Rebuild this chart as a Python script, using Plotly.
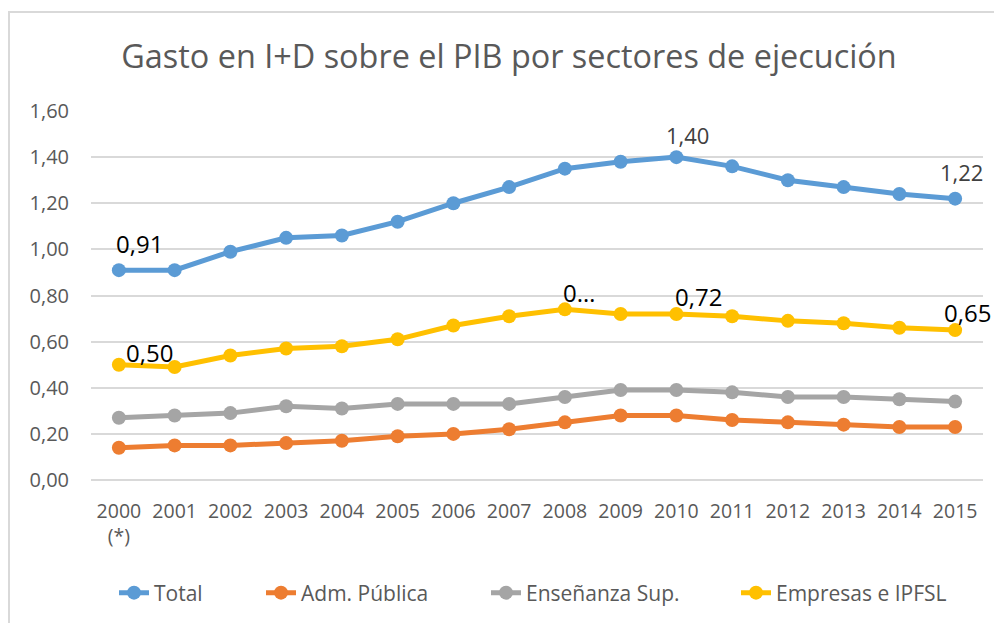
import plotly.graph_objects as go

years = ["2000<br>(*)", "2001", "2002", "2003", "2004", "2005", "2006", "2007",
         "2008", "2009", "2010", "2011", "2012", "2013", "2014", "2015"]

total = [0.91, 0.91, 0.99, 1.05, 1.06, 1.12, 1.20, 1.27, 1.35, 1.38, 1.40, 1.36, 1.30, 1.27, 1.24, 1.22]
adm_publica = [0.14, 0.15, 0.15, 0.16, 0.17, 0.19, 0.20, 0.22, 0.25, 0.28, 0.28, 0.26, 0.25, 0.24, 0.23, 0.23]
ensenanza = [0.27, 0.28, 0.29, 0.32, 0.31, 0.33, 0.33, 0.33, 0.36, 0.39, 0.39, 0.38, 0.36, 0.36, 0.35, 0.34]
empresas = [0.50, 0.49, 0.54, 0.57, 0.58, 0.61, 0.67, 0.71, 0.74, 0.72, 0.72, 0.71, 0.69, 0.68, 0.66, 0.65]

series_names = ["Total", "Adm. Pública", "Enseñanza Sup.", "Empresas e IPFSL"]
series_values = [total, adm_publica, ensenanza, empresas]
colors = ["#5B9BD5", "#ED7D31", "#A5A5A5", "#FFC000"]

# data labels: (series index, point index, text)
labels = [
    (0, 0, "0,91"), (0, 10, "1,40"), (0, 15, "1,22"),
    (3, 0, "0,50"), (3, 8, "0…"), (3, 10, "0,72"), (3, 15, "0,65"),
]
# style for each label: (xshift, yshift, color, size)
label_styles = [
    (21, 27, "#000000", 24), (11, 22, "#404040", 22), (6, 27, "#404040", 22),
    (31, 12, "#000000", 24), (14, 17, "#000000", 24), (22, 17, "#000000", 24), (12, 18, "#000000", 24),
]

FONT = "Open Sans"
PW, PH = 892.0, 369.0  # plot area size in px

legend_ids = ["legend", "legend2", "legend3", "legend4"]
legend_x_px = [23, 170, 395, 645]  # legend box left edge, relative to plot left

fig = go.Figure()
for name, vals, col, lid in zip(series_names, series_values, colors, legend_ids):
    fig.add_trace(go.Scatter(
        x=years, y=vals, name=name, mode="lines+markers",
        line=dict(color=col, width=5),
        marker=dict(color=col, size=14),
        legend=lid,
    ))

annotations = []
for (si, pi, txt), (dx, dy, c, s) in zip(labels, label_styles):
    annotations.append(dict(
        x=pi, y=series_values[si][pi], xref="x", yref="y", text=txt, showarrow=False,
        xshift=dx, yshift=dy, font=dict(family=FONT, size=s, color=c),
    ))

legend_common = dict(orientation="h", xanchor="left", y=-113 / PH, yanchor="middle",
                     font=dict(family=FONT, size=21, color="#595959"),
                     bgcolor="rgba(0,0,0,0)")
legends = {}
for lid, lx in zip(legend_ids, legend_x_px):
    legends[lid] = dict(x=lx / PW, **legend_common)

fig.update_layout(
    width=1002, height=623,
    margin=dict(l=83, r=27, t=103, b=151),
    paper_bgcolor="white", plot_bgcolor="white",
    title=dict(text="Gasto en I+D sobre el PIB por sectores de ejecución",
               x=0.5, xanchor="center", y=1 - 49 / 623, yanchor="middle",
               font=dict(family=FONT, size=32.4, color="#595959")),
    font=dict(family=FONT, size=19, color="#595959"),
    xaxis=dict(type="category", range=[-0.5, 15.5], showgrid=False,
               showline=False, zeroline=False, ticks="",
               ticklabelstandoff=17,
               tickfont=dict(family=FONT, size=19.5, color="#595959")),
    yaxis=dict(range=[0, 1.6], dtick=0.2, tickformat=".2f",
               showgrid=True, gridcolor="#D9D9D9", gridwidth=1.5,
               zeroline=True, zerolinecolor="#D9D9D9", zerolinewidth=1.5,
               showline=False, ticks="", ticklabelstandoff=21,
               tickfont=dict(family=FONT, size=20, color="#595959")),
    separators=",.",
    showlegend=True,
    annotations=annotations,
    shapes=[
        dict(type="line", xref="paper", yref="paper", x0=-91 / PW, x1=1.1, y0=1 + 99 / PH, y1=1 + 99 / PH,
             line=dict(color="#D9D9D9", width=2)),
        dict(type="line", xref="paper", yref="paper", x0=-82 / PW, x1=-82 / PW, y0=-0.5, y1=1 + 99 / PH,
             line=dict(color="#D9D9D9", width=2)),
    ],
    **legends,
)

fig.write_html("out.html")
